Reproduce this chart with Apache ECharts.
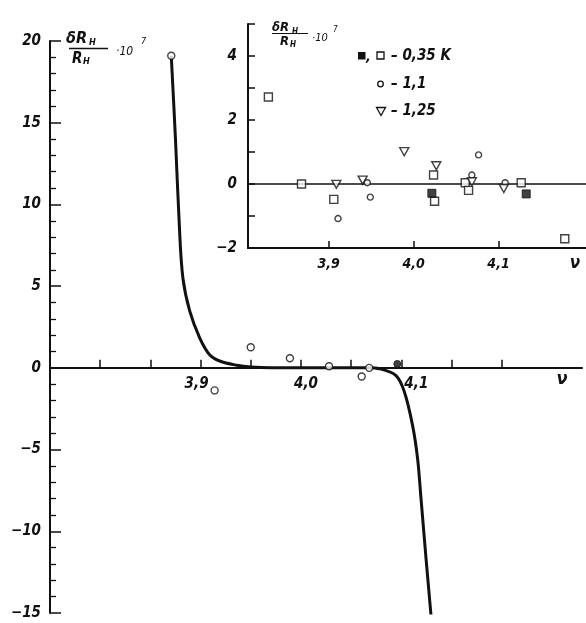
<!DOCTYPE html>
<html><head><meta charset="utf-8">
<script src="https://cdn.jsdelivr.net/npm/echarts@6/dist/echarts.min.js"></script>
<style>html,body{margin:0;padding:0;background:#fff}#c{width:586px;height:623px}</style>
</head><body><div id="c"></div>
<script>
const FONT = "'Liberation Sans Narrow','DejaVu Sans Condensed','Liberation Sans',sans-serif";
const INK = '#111';

// ---- main chart data ----
const mainCurveX = [3.8708, 3.875, 3.879, 3.8824, 3.8891, 3.899, 3.909, 3.919, 3.936, 3.95, 3.97, 4.0, 4.04, 4.068, 4.078, 4.0947, 4.103, 4.1112, 4.1162, 4.1196, 4.1246, 4.1296];
const mainCurveY = [19.1, 14.0, 8.5, 5.5, 3.5, 1.85, 0.8, 0.42, 0.16, 0.05, 0.0, 0.0, 0.0, 0.0, -0.05, -0.47, -1.46, -3.52, -5.55, -7.99, -11.65, -15.16];
const mainOpenX = [3.8708, 3.914, 3.950, 3.989, 4.028, 4.0605, 4.068, 4.1296];
const mainOpenY = [19.1, -1.38, 1.26, 0.59, 0.10, -0.53, 0.0, -15.16];
const mainFilledX = [4.096];
const mainFilledY = [0.24];
const mainXTicks = [3.8, 3.85, 3.9, 3.95, 4.0, 4.05, 4.1, 4.15, 4.2];
const mainXLabels = [3.9, 4.0, 4.1];

// ---- inset data ----
const insetOpenSqX = [3.829, 3.868, 3.906, 4.0235, 4.0247, 4.0608, 4.0647, 4.1267, 4.178];
const insetOpenSqY = [2.72, 0.0, -0.48, 0.28, -0.54, 0.04, -0.2, 0.04, -1.71];
const insetFilledSqX = [4.0215, 4.1326];
const insetFilledSqY = [-0.29, -0.31];
const insetCircleX = [3.911, 3.9455, 3.949, 4.0686, 4.0765, 4.1078];
const insetCircleY = [-1.08, 0.04, -0.41, 0.28, 0.91, 0.04];
const insetTriX = [3.909, 3.940, 3.989, 4.0267, 4.0686, 4.1062];
const insetTriY = [-0.01, 0.12, 1.01, 0.57, 0.07, -0.14];
const insetXLabels = [3.9, 4.0, 4.1];

const zip = (xs, ys) => xs.map((v, i) => [v, ys[i]]);
const fmtNum = v => { const s = String(Math.abs(v)).replace('.', ','); return v < 0 ? '−' + s : s; };
const fmtX = v => v.toFixed(1).replace('.', ',');

const labelFont = { fontFamily: FONT, fontStyle: 'italic', fontWeight: 'bold', color: INK };
const openItem = { color: '#fff', borderColor: INK, borderWidth: 1.4 };
const filledItem = { color: INK, borderColor: INK, borderWidth: 1 };

const chart = echarts.init(document.getElementById('c'));

function txt(text, x, y, size, extra) {
  return Object.assign({ type: 'text', silent: true, style: Object.assign({
    text, x, y, fill: INK, fontFamily: FONT, fontStyle: 'italic', fontWeight: 'bold',
    fontSize: size, verticalAlign: 'middle', align: 'left' }, extra || {}) });
}
function hline(x1, x2, y, w) {
  return { type: 'line', silent: true, shape: { x1, y1: y, x2, y2: y }, style: { stroke: INK, lineWidth: w || 1.3 } };
}

const baseGraphic = [
  // main y title
  txt('δR', 66, 39, 16), txt('H', 89, 43, 9),
  hline(69, 108, 48.5, 1.4),
  txt('R', 72, 59, 15), txt('H', 83, 62, 9),
  txt('·10', 116, 52, 12, { fontWeight: 'normal' }), txt('7', 141, 42, 9, { fontWeight: 'normal' }),
  // main nu
  txt('ν', 562, 379, 18, { align: 'center' }),
  // inset y title
  txt('δR', 272, 28, 13), txt('H', 292, 32, 8),
  hline(272, 308, 33.5, 1.2),
  txt('R', 280, 42, 13), txt('H', 290, 45, 8),
  txt('·10', 312, 38, 11, { fontWeight: 'normal' }), txt('7', 333, 30, 8, { fontWeight: 'normal' }),
  // inset nu
  txt('ν', 575, 264, 17, { align: 'center' }),
  // inset legend
  { type: 'rect', silent: true, shape: { x: 358, y: 52, width: 7.5, height: 7.5 }, style: { fill: INK } },
  txt(',', 366, 57, 14),
  { type: 'rect', silent: true, shape: { x: 377, y: 52, width: 7, height: 7 }, style: { fill: '#fff', stroke: INK, lineWidth: 1.3 } },
  txt('– 0,35 K', 391, 56, 15),
  { type: 'circle', silent: true, shape: { cx: 380.5, cy: 84, r: 2.8 }, style: { fill: '#fff', stroke: INK, lineWidth: 1.3 } },
  txt('– 1,1', 391, 84, 15),
  { type: 'polygon', silent: true, shape: { points: [[376.5, 107.5], [385.5, 107.5], [381, 115.5]] }, style: { fill: '#fff', stroke: INK, lineWidth: 1.3 } },
  txt('– 1,25', 391, 111, 15)
];

chart.setOption({
  animation: false,
  backgroundColor: '#fff',
  grid: [
    { left: 50, top: 41, width: 532, bottom: 10 },
    { left: 248, top: 24, width: 338, height: 224 }
  ],
  xAxis: [
    { gridIndex: 0, type: 'value', min: 3.75, max: 4.28,
      axisLine: { onZero: true, lineStyle: { color: INK, width: 2 } },
      axisTick: { inside: true, length: 8, customValues: mainXTicks, lineStyle: { color: INK, width: 1.5 } },
      axisLabel: { show: false },
      splitLine: { show: false } },
    { gridIndex: 1, type: 'value', min: 3.805, max: 4.203, position: 'bottom',
      axisLine: { onZero: false, lineStyle: { color: INK, width: 2 } },
      axisTick: { inside: true, length: 7, customValues: insetXLabels, lineStyle: { color: INK, width: 1.5 } },
      axisLabel: Object.assign({ customValues: insetXLabels, margin: 9, fontSize: 14, formatter: fmtX }, labelFont),
      splitLine: { show: false } }
  ],
  yAxis: [
    { gridIndex: 0, type: 'value', min: -15, max: 20, interval: 5,
      axisLine: { show: true, onZero: false, lineStyle: { color: INK, width: 2 } },
      axisTick: { show: true, inside: true, length: 11, lineStyle: { color: INK, width: 1.5 } },
      minorTick: { show: true, splitNumber: 5, length: 6, lineStyle: { color: INK, width: 1.3 } },
      axisLabel: Object.assign({ margin: 9, fontSize: 15, formatter: fmtNum }, labelFont),
      splitLine: { show: false }, minorSplitLine: { show: false } },
    { gridIndex: 1, type: 'value', min: -2, max: 5, interval: 1,
      axisLine: { show: true, onZero: false, lineStyle: { color: INK, width: 2 } },
      axisTick: { show: true, inside: true, length: 7, lineStyle: { color: INK, width: 1.5 } },
      axisLabel: Object.assign({ margin: 11, fontSize: 15, formatter: v => (v % 2 === 0 ? fmtNum(v) : '') }, labelFont),
      splitLine: { show: false } }
  ],
  series: [
    { type: 'line', xAxisIndex: 0, yAxisIndex: 0, data: zip(mainCurveX, mainCurveY), smooth: 0.35,
      showSymbol: false, lineStyle: { color: INK, width: 3, join: 'round' }, z: 3 },
    { type: 'scatter', xAxisIndex: 0, yAxisIndex: 0, data: zip(mainOpenX, mainOpenY), symbol: 'circle',
      symbolSize: 7, itemStyle: openItem, z: 5 },
    { type: 'scatter', xAxisIndex: 0, yAxisIndex: 0, data: zip(mainFilledX, mainFilledY), symbol: 'circle',
      symbolSize: 7, itemStyle: filledItem, z: 5 },
    { type: 'scatter', xAxisIndex: 1, yAxisIndex: 1, data: zip(insetOpenSqX, insetOpenSqY), symbol: 'rect',
      symbolSize: 8, itemStyle: openItem, z: 5,
      markLine: { silent: true, symbol: 'none', label: { show: false }, lineStyle: { color: INK, width: 1.6, type: 'solid' },
        data: [{ yAxis: 0 }], z: 2 } },
    { type: 'scatter', xAxisIndex: 1, yAxisIndex: 1, data: zip(insetFilledSqX, insetFilledSqY), symbol: 'rect',
      symbolSize: 8, itemStyle: filledItem, z: 6 },
    { type: 'scatter', xAxisIndex: 1, yAxisIndex: 1, data: zip(insetCircleX, insetCircleY), symbol: 'circle',
      symbolSize: 6, itemStyle: openItem, z: 5 },
    { type: 'scatter', xAxisIndex: 1, yAxisIndex: 1, data: zip(insetTriX, insetTriY), symbol: 'triangle',
      symbolRotate: 180, symbolSize: [9, 8], itemStyle: openItem, z: 5 }
  ],
  graphic: baseGraphic
});

// main x tick labels sit on the zero line: place them through the axis scale
const labelShift = [-4, 5, 15];
const xLabelGraphic = mainXLabels.map((v, i) => {
  const p = chart.convertToPixel({ xAxisIndex: 0, yAxisIndex: 0 }, [v, 0]);
  return txt(fmtX(v), p[0] + labelShift[i], p[1] + 16, 15, { align: 'center' });
});
chart.setOption({ graphic: baseGraphic.concat(xLabelGraphic) });
</script>
</body></html>
